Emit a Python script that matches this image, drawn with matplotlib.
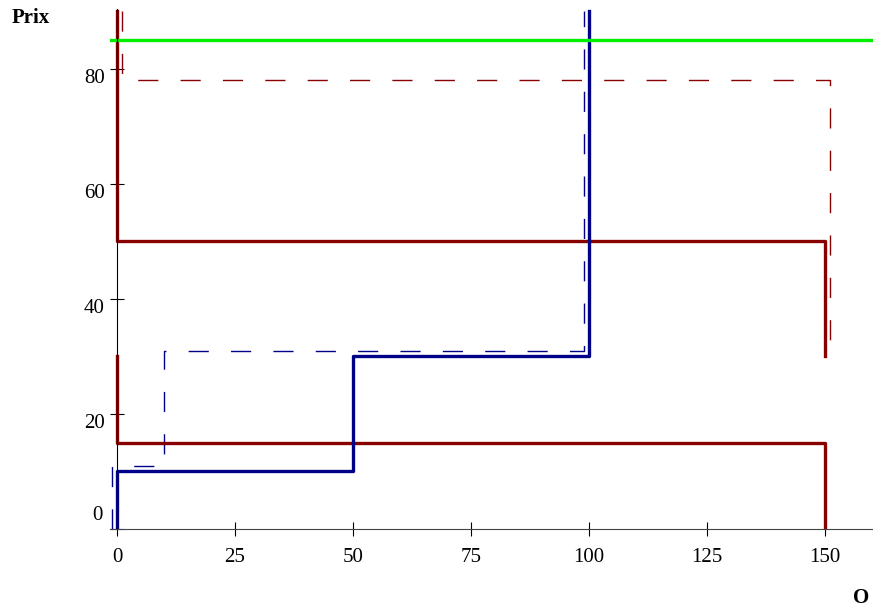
import numpy as np
import matplotlib
matplotlib.use('Agg')
import matplotlib.pyplot as plt

# data
blue_x = [0, 0, 50, 50, 100, 100]
blue_y = [0, 10, 10, 30, 30, 90]
blue_dash_x = [-1, -1, 10, 10, 99, 99]
blue_dash_y = [0, 11, 11, 31, 31, 90]
red_top_x = [0, 0, 150, 150]
red_top_y = [90, 50, 50, 30]
red_low_x = [0, 0, 150, 150]
red_low_y = [30, 15, 15, 0]
red_dash_x = [1, 1, 151, 151]
red_dash_y = [90, 78, 78, 31]
green_level = 85

x_ticks = [0, 25, 50, 75, 100, 125, 150]
y_ticks = [0, 20, 40, 60, 80]

plt.rcParams['font.family'] = ['Liberation Serif', 'DejaVu Serif']

fig = plt.figure(figsize=(8.73, 6.12), dpi=100)
ax = fig.add_axes([110 / 873, (612 - 529) / 612, 763 / 873, 520.4 / 612])
ax.set_xlim(-1.48, 160.2)
ax.set_ylim(0, 90.5)

maroon = '#880000'
navy = '#000088'

ax.plot(red_dash_x, red_dash_y, color=maroon, lw=1.0, ls=(0, (14.5, 16)))
ax.plot(blue_dash_x, blue_dash_y, color=navy, lw=1.0, ls=(0, (14.5, 16)))
ax.plot(red_top_x, red_top_y, color=maroon, lw=2.4)
ax.plot(red_low_x, red_low_y, color=maroon, lw=2.4)
ax.plot(blue_x, blue_y, color=navy, lw=2.4)
ax.axhline(green_level, color='#00ee00', lw=2.4)

# crossed axes like the original
for s in ['top', 'right']:
    ax.spines[s].set_visible(False)
ax.spines['left'].set_position(('data', 0))
ax.spines['bottom'].set_position(('data', 0))
ax.spines['left'].set_linewidth(0.8)
ax.spines['bottom'].set_linewidth(0.8)
ax.spines['bottom'].set_color('#444444')

ax.set_xticks(x_ticks)
ax.set_xticklabels([str(v) for v in x_ticks], fontsize=15)
ax.tick_params(axis='x', direction='inout', length=10, width=0.8, pad=8.5)

ax.set_yticks(y_ticks)
ax.set_yticklabels([])
ax.tick_params(axis='y', direction='inout', length=10, width=0.8)
for v in y_ticks:
    if v == 0:
        ax.annotate(str(v), (0, v), xytext=(-14, 4), textcoords='offset pixels',
                    ha='right', va='bottom', fontsize=15)
    else:
        ax.annotate(str(v), (0, v), xytext=(-12, 0), textcoords='offset pixels',
                    ha='right', va='top', fontsize=15)

fig.text(12 / 873, 1 - 18 / 612, 'Prix', ha='left', va='center', fontsize=15, fontweight='bold')
fig.text(861 / 873, 1 - 598 / 612, 'O', ha='center', va='center', fontsize=15, fontweight='bold')

fig.savefig('out.png', dpi=100)
